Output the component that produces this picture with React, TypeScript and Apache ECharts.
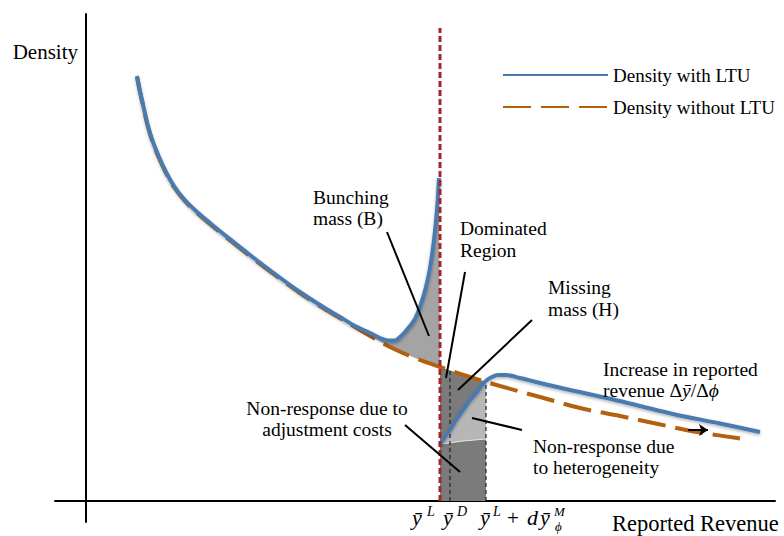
import React, { useEffect, useRef } from "react";
import * as echarts from "echarts";

// Conceptual units: x = reported revenue, y = density (origin where the axes cross)
const densityWithLtuBelow: [number, number][] = [
  [51, 425], [54, 410], [58, 392], [62, 375], [67, 359], [73, 344], [80, 329], [88, 315],
  [98, 302], [110, 290], [124, 278], [140, 265], [164, 246], [189, 227], [214, 209], [234, 196],
  [254, 184], [269, 175], [284, 168], [294, 163], [302, 160.5], [309, 160.5], [314, 164], [319, 169],
  [324, 175], [329, 182], [334, 194], [340, 214], [344, 233], [348, 261], [351, 291], [353, 323],
];
const densityWithLtuAbove: [number, number][] = [
  [354, 56], [358, 63], [364, 71], [370, 81], [377, 91], [384, 101], [391, 109], [396, 116],
  [401, 121], [406, 124], [412, 126], [420, 126], [434, 123], [454, 118], [484, 111], [521, 103],
  [554, 95], [587, 87], [634, 77.5], [674, 69],
];
const densityWithoutLtu: [number, number][] = [
  [51, 424], [54, 409], [58, 391], [62, 374], [67, 358], [73, 343], [80, 328], [88, 314],
  [98, 301], [110, 289], [124, 277], [140, 264], [164, 245], [189, 226], [214, 208], [234, 195],
  [254, 183], [279, 168], [304, 154], [329, 143], [354, 134], [384, 124], [414, 115], [454, 104],
  [494, 93], [534, 85], [572, 77], [611, 69], [651, 63], [664, 61],
];
const heterogeneityFloor: [number, number][] = [[355, 57], [377, 60], [400, 62]];
const notchY = 354; // ȳ^L
const dominatedY = 364; // ȳ^D
const marginalY = 400; // ȳ^L + dȳ^M_φ
const notchLineTop = 473;
const bunchingStart = 254;

const pointerLines: [number, number][][] = [
  [[301, 269], [343, 165]],
  [[379, 229], [360, 123]],
  [[446, 181], [372, 111]],
  [[386, 83], [436, 71]],
  [[319, 76], [374, 29]],
];
const shiftArrow: [number, number][] = [[602, 71], [622, 71]];

const BLUE = "#4a7ab0";
const ORANGE = "#b4610f";
const SERIF = '"Liberation Serif", "DejaVu Serif", serif';

function interp(arr: [number, number][], x: number): number {
  for (let i = 0; i < arr.length - 1; i++) {
    const [x0, y0] = arr[i];
    const [x1, y1] = arr[i + 1];
    if (x >= x0 && x <= x1) return y0 + ((y1 - y0) * (x - x0)) / (x1 - x0);
  }
  return arr[arr.length - 1][1];
}

function polygonSeries(points: [number, number][], fill: string) {
  return {
    type: "custom",
    coordinateSystem: "cartesian2d",
    silent: true,
    clip: false,
    data: [[0, 0]],
    renderItem: (_p: any, api: any) => ({
      type: "polygon",
      shape: { points: points.map((pt) => api.coord(pt)) },
      style: { fill, stroke: "none" },
    }),
  };
}

function txt(text: string, x: number, y: number, size = 19.5, style = "", align = "left") {
  return {
    type: "text",
    x,
    y,
    silent: true,
    z: 100,
    style: {
      text,
      fill: "#000",
      font: `${style}${size}px ${SERIF}`,
      textAlign: align,
      align,
      textVerticalAlign: "middle",
      verticalAlign: "middle",
    },
  };
}

export default function App() {
  const ref = useRef<HTMLDivElement>(null);

  useEffect(() => {
    if (!ref.current) return;
    const chart = echarts.init(ref.current, undefined, { renderer: "svg" });

    const bunchingPoly: [number, number][] = [
      ...densityWithLtuBelow.filter((p) => p[0] >= bunchingStart),
      [notchY, interp(densityWithoutLtu, notchY)],
      ...densityWithoutLtu.filter((p) => p[0] >= bunchingStart && p[0] < notchY).reverse(),
    ];
    const dominatedPoly: [number, number][] = [
      ...densityWithoutLtu.filter((p) => p[0] >= notchY && p[0] < marginalY),
      [marginalY, interp(densityWithoutLtu, marginalY)],
      [marginalY, 0],
      [notchY, 0],
    ];
    const lightPoly: [number, number][] = [
      ...densityWithLtuAbove.filter((p) => p[0] < marginalY),
      [marginalY, interp(densityWithLtuAbove, marginalY)],
      ...[...heterogeneityFloor].reverse(),
    ];
    const yDTop = interp(densityWithoutLtu, dominatedY);
    const marginalTop = Math.max(interp(densityWithLtuAbove, marginalY), interp(densityWithoutLtu, marginalY));

    const thinDash = (data: [number, number][]) => ({
      type: "line",
      data,
      symbol: "none",
      silent: true,
      lineStyle: { color: "#222", width: 1.2, type: [4, 3] },
      z: 5,
    });

    const blueStyle = { color: BLUE, width: 4, shadowBlur: 3, shadowColor: "rgba(0,0,0,0.3)", shadowOffsetY: 1.5 };

    chart.setOption({
      animation: false,
      grid: { left: 55, top: 14, width: 720, height: 508, containLabel: false },
      xAxis: {
        type: "value",
        min: -31,
        max: 689,
        axisLine: { show: true, onZero: true, lineStyle: { color: "#000", width: 2 } },
        axisTick: { show: false },
        axisLabel: { show: false },
        splitLine: { show: false },
      },
      yAxis: {
        type: "value",
        min: -21,
        max: 487,
        axisLine: { show: true, onZero: true, lineStyle: { color: "#000", width: 2 } },
        axisTick: { show: false },
        axisLabel: { show: false },
        splitLine: { show: false },
      },
      legend: {
        data: ["Density with LTU", "Density without LTU"],
        orient: "vertical",
        left: 497,
        top: 60,
        padding: 5,
        itemWidth: 105,
        itemHeight: 20,
        itemGap: 12,
        selectedMode: false,
        itemStyle: { opacity: 0 },
        textStyle: { fontFamily: SERIF, fontSize: 19, color: "#000", lineHeight: 20 },
      },
      series: [
        polygonSeries(bunchingPoly, "#a4a4a4"),
        polygonSeries(dominatedPoly, "#7b7b7b"),
        polygonSeries(lightPoly, "#b7b7b7"),
        {
          type: "line",
          data: heterogeneityFloor,
          symbol: "none",
          silent: true,
          lineStyle: { color: "#e6e6e6", width: 1 },
          z: 3,
        },
        {
          name: "Density without LTU",
          type: "line",
          data: densityWithoutLtu,
          symbol: "none",
          smooth: 0.35,
          lineStyle: { color: ORANGE, width: 4, type: [28, 10] },
          itemStyle: { color: ORANGE },
          z: 4,
        },
        {
          name: "Density with LTU",
          type: "line",
          data: densityWithLtuBelow,
          symbol: "none",
          smooth: 0.35,
          lineStyle: blueStyle,
          itemStyle: { color: BLUE },
          z: 6,
        },
        {
          name: "Density with LTU",
          type: "line",
          data: densityWithLtuAbove,
          symbol: "none",
          smooth: 0.35,
          lineStyle: blueStyle,
          itemStyle: { color: BLUE },
          z: 6,
        },
        thinDash([[dominatedY, 0], [dominatedY, yDTop]]),
        thinDash([[marginalY, 0], [marginalY, marginalTop]]),
        {
          type: "line",
          data: [[notchY, 0], [notchY, notchLineTop]],
          symbol: "none",
          silent: true,
          lineStyle: { color: "#a0282a", width: 3, type: [6, 3] },
          z: 7,
        },
        {
          type: "lines",
          coordinateSystem: "cartesian2d",
          silent: true,
          symbol: "none",
          lineStyle: { color: "#000", width: 2, opacity: 1 },
          data: pointerLines.map((c) => ({ coords: c })),
          z: 8,
        },
        {
          type: "lines",
          coordinateSystem: "cartesian2d",
          silent: true,
          symbol: ["none", "arrow"],
          symbolSize: 9,
          lineStyle: { color: "#000", width: 2, opacity: 1 },
          data: [{ coords: shiftArrow }],
          z: 8,
        },
      ],
      graphic: [
        txt("Density", 12.7, 52, 21),
        txt("Reported Revenue", 612, 523, 22.5),
        txt("Bunching", 313, 197),
        txt("mass (B)", 313, 218),
        txt("Dominated", 460, 228),
        txt("Region", 460, 250),
        txt("Missing", 548, 287),
        txt("mass (H)", 548, 309),
        txt("Increase in reported", 603, 369),
        {
          type: "text",
          x: 603,
          y: 390,
          silent: true,
          z: 100,
          style: {
            text: "{n|revenue Δ}{i|ȳ}{n|/Δ}{i|ϕ}",
            fill: "#000",
            font: `19.5px ${SERIF}`,
            textVerticalAlign: "middle",
            verticalAlign: "middle",
            rich: {
              n: { font: `19.5px ${SERIF}`, fill: "#000" },
              i: { font: `italic 19.5px ${SERIF}`, fill: "#000" },
            },
          },
        },
        txt("Non-response due", 533, 446),
        txt("to heterogeneity", 533, 467),
        txt("Non-response due to", 327, 408, 19.5, "", "center"),
        txt("adjustment costs", 327, 429, 19.5, "", "center"),
        txt("ȳ", 412, 517, 22, "italic "),
        txt("L", 427, 511, 14, "italic "),
        txt("ȳ", 443, 517, 22, "italic "),
        txt("D", 457, 511, 14, "italic "),
        txt("ȳ", 480, 517, 22, "italic "),
        txt("L", 493, 511, 14, "italic "),
        txt("+", 507, 518, 21),
        txt("d", 527, 517, 22, "italic "),
        txt("ȳ", 540, 517, 22, "italic "),
        txt("M", 554, 511, 13, "italic "),
        txt("ϕ", 555, 526, 13, "italic "),
      ],
    });

    return () => chart.dispose();
  }, []);

  return <div ref={ref} style={{ width: 784, height: 536, position: "absolute", left: 0, top: 0 }} />;
}
